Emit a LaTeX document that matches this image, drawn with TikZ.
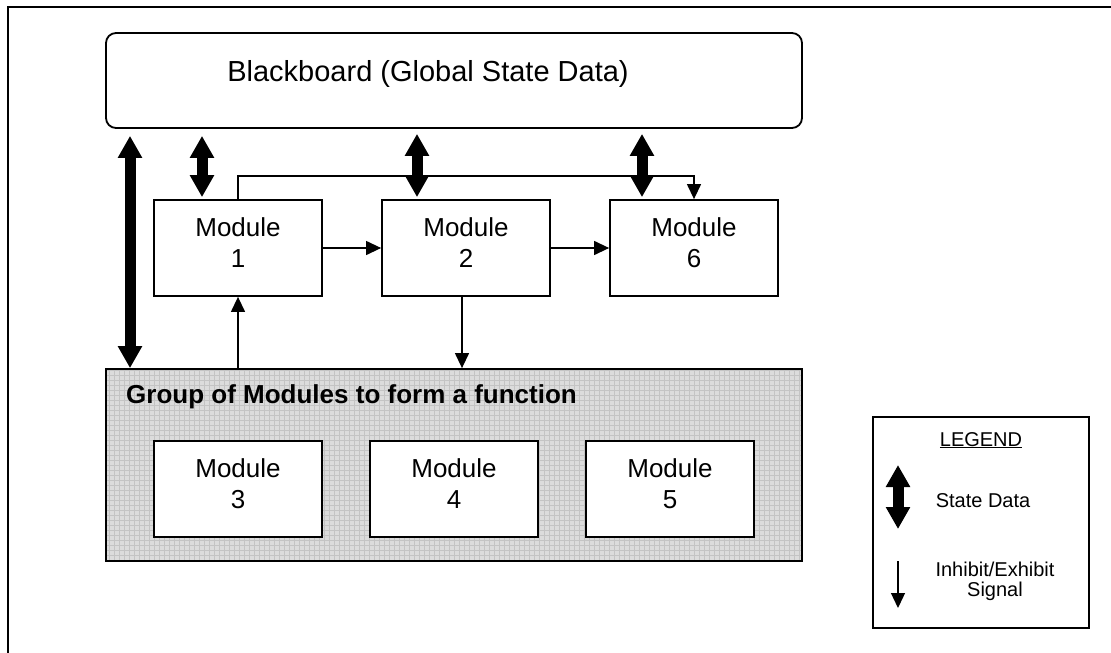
\documentclass[tikz,border=0pt]{standalone}
\usepackage{fontspec}
\setmainfont{Liberation Sans}
\usetikzlibrary{arrows.meta}
\definecolor{groupfill}{RGB}{220,220,220}
\definecolor{groupgrid}{RGB}{196,196,196}
\begin{document}
\begin{tikzpicture}[x=1pt,y=-1pt,
  boxline/.style={line width=1.8pt},
  module/.style={draw, boxline, fill=white, minimum width=168pt, minimum height=96pt,
    inner sep=0pt, align=center, font=\fontsize{26}{31}\selectfont,
    execute at end node={\rule[-10pt]{0pt}{10pt}}},
  statearrow/.style={line width=11pt,
    {Triangle[width=23pt,length=22pt]}-{Triangle[width=23pt,length=22pt]}},
  sig/.style={line width=1.3pt, -{Triangle[width=14pt,length=15pt]}},
  legendtext/.style={font=\fontsize{20}{20}\selectfont, inner sep=0pt},
]
\useasboundingbox (0,0) rectangle (1111,653);
\fill[white] (0,0) rectangle (1111,653);
% page frame (only the top and left edges fall inside the page)
\draw[line width=2pt] (8,700) -- (8,7) -- (1200,7);

% blackboard
\node[draw, boxline, rounded corners=10pt, minimum width=696pt, minimum height=95pt]
  (bb) at (454,80.5) {};
\node[font=\fontsize{29}{29}\selectfont, anchor=base, inner sep=0pt]
  (bbtext) at (428,81) {Blackboard (Global State Data)};

% upper modules
\node[module] (m1) at (238,248) {Module\\1};
\node[module] (m2) at (466,248) {Module\\2};
\node[module] (m6) at (694,248) {Module\\6};

% group of modules
\node[draw, boxline, fill=groupfill, minimum width=696pt, minimum height=192pt,
  path picture={\draw[groupgrid, line width=0.7pt]
    (path picture bounding box.south west) grid[step=5pt]
    (path picture bounding box.north east);}]
  (grp) at (454,465) {};
\node[font=\fontsize{26}{26}\selectfont\bfseries, anchor=base west, inner sep=0pt]
  (grptext) at (126,403) {Group of Modules to form a function};
\node[module] (m3) at (238,489) {Module\\3};
\node[module] (m4) at (454,489) {Module\\4};
\node[module] (m5) at (670,489) {Module\\5};

% column positions of the vertical connectors
\coordinate (xl) at (130,0);
\coordinate (x1) at (202,0);
\coordinate (x2) at (417,0);
\coordinate (x6) at (642,0);
\coordinate (xd) at (462,0);

% state data exchange with the blackboard
\draw[statearrow, shorten >=7pt] (grp.north -| xl) -- (bb.south -| xl);
\draw[statearrow, shorten <=2pt, shorten >=7pt] (m1.north -| x1) -- (bb.south -| x1);
\draw[statearrow, shorten <=2pt, shorten >=5pt] (m2.north -| x2) -- (bb.south -| x2);
\draw[statearrow, shorten <=2pt, shorten >=5pt] (m6.north -| x6) -- (bb.south -| x6);

% inhibit / exhibit signals
\draw[sig] (m1.north) -- ++(0,-23) -| (m6.north);
\draw[sig] (m1.east) -- (m2.west);
\draw[sig] (m2.east) -- (m6.west);
\draw[sig] (grp.north -| m1) -- (m1.south);
\draw[sig] (m2.south -| xd) -- (grp.north -| xd);

% legend
\node[draw, boxline, minimum width=216pt, minimum height=211pt] (leg) at (981,522.5) {};
\node[legendtext, anchor=base] (legtitle) at (981,446) {\underline{LEGEND}};
\coordinate (lsa) at (898,465);
\coordinate (lsb) at (898,529);
\draw[statearrow] (lsa) -- (lsb);
\node[legendtext, anchor=base] (legstate) at (983,507) {State Data};
\coordinate (lia) at (898,561);
\coordinate (lib) at (898,608);
\draw[sig] (lia) -- (lib);
\node[legendtext, anchor=base, align=center]
  (legsig) at (995,596) {Inhibit/Exhibit\\Signal};
\end{tikzpicture}
\end{document}
